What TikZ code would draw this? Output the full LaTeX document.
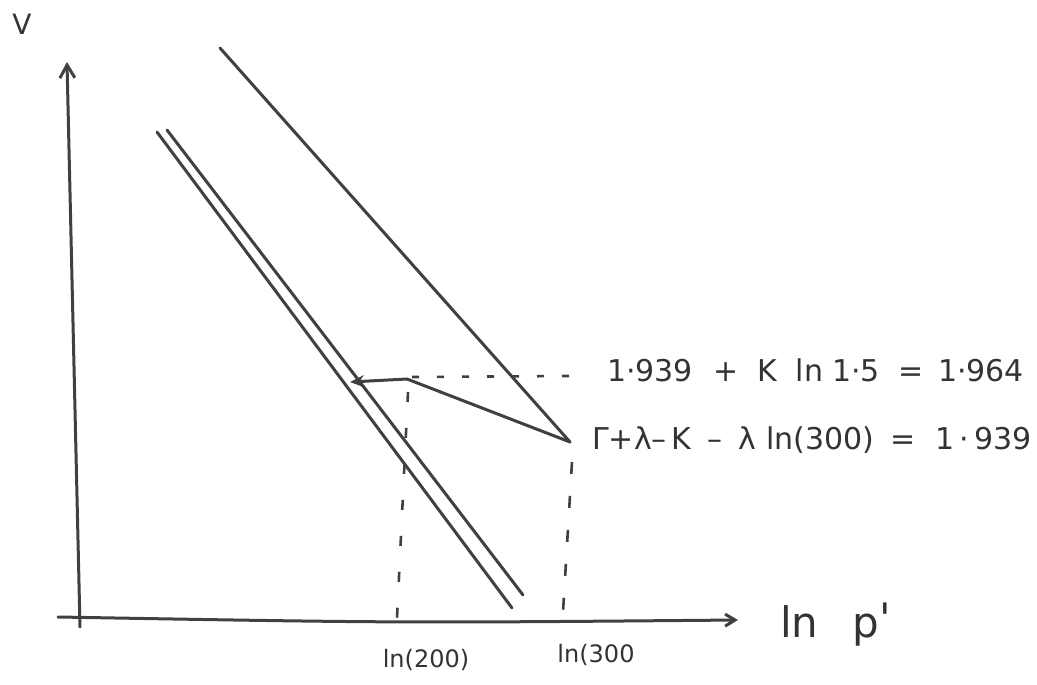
\documentclass[tikz,border=0pt]{standalone}
\usepackage{fontspec}
\setmainfont{DejaVu Sans}
\usetikzlibrary{arrows.meta}
\begin{document}
\begin{tikzpicture}[x=1pt,y=-1pt,
  pen/.style={line width=3pt,draw=black!75,line cap=round},
  guide/.style={line width=2.6pt,draw=black!75,dash pattern=on 7pt off 18pt},
  lbl/.style={inner sep=0pt,text=black!80},
  big/.style={font=\fontsize{28}{32}\selectfont},
  mid/.style={font=\fontsize{30}{34}\selectfont},
  small/.style={font=\fontsize{24}{28}\selectfont}]
\useasboundingbox (0,0) rectangle (1037,685);
% axes
\coordinate (yb) at (80,627);
\coordinate (yt) at (67,62);
\coordinate (xl) at (58,617);
\coordinate (xm) at (400,623);
\coordinate (xr) at (738,620);
\draw[pen,-{Straight Barb[length=13pt,width=15pt]}] (yb) -- (yt);
\draw[pen,-{Straight Barb[length=10pt,width=12pt]}] (xl) .. controls (xm) .. (xr);
\node[lbl,big] (V) at (22,24) {V};
\node[lbl,font=\fontsize{42}{46}\selectfont,anchor=west] (lnp) at (780,625) {ln\hspace{34pt}p\raisebox{4pt}{\textquotesingle}};
% lines
\coordinate (a1) at (220,48);
\coordinate (A) at (570,442);
\draw[pen] (a1) -- (A);
\coordinate (b1) at (157,132);
\coordinate (b2) at (512,608);
\coordinate (c1) at (167,130);
\coordinate (c2) at (523,595);
\draw[pen] (b1) -- (b2);
\draw[pen] (c1) -- (c2);
% path
\coordinate (B) at (407,379);
\coordinate (C) at (350,382);
\draw[pen] (A) -- (B);
\draw[pen,-{Stealth[length=14pt,width=12pt]}] (B) -- (C);
% dashed guides
\coordinate (d1) at (412,377);
\coordinate (d2) at (570,376);
\draw[guide] (d1) -- (d2);
\coordinate (v1) at (408,392);
\coordinate (v2) at (397,618);
\draw[guide,dash pattern=on 10pt off 26pt] (v1) -- (v2);
\coordinate (w1) at (572,462);
\coordinate (w2) at (563,612);
\draw[guide,dash pattern=on 12pt off 22pt] (w1) -- (w2);
% labels
\node[lbl,mid,anchor=west] (t1) at (607,370) {1·939\hspace{20pt}+\hspace{19pt}K\hspace{19pt}ln\hspace{9pt}1·5\hspace{19pt}=\hspace{14pt}1·964};
\node[lbl,mid,anchor=west] (t2) at (592,440) {Γ+λ–\,K\hspace{16pt}–\hspace{16pt}λ\hspace{10pt}ln(300)\hspace{16pt}=\hspace{20pt}1\,·\,939};
\node[lbl,small] (l200) at (426,660) {ln(200)};
\node[lbl,small] (l300) at (596,655) {ln(300};
\end{tikzpicture}
\end{document}
